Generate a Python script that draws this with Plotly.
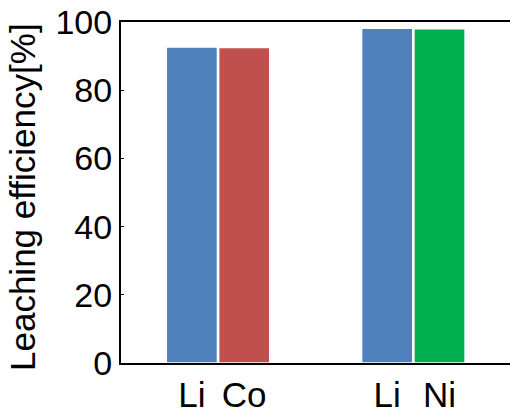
import plotly.graph_objects as go

groups = ["Li-Co", "Li-Ni"]
bar_labels = ["Li", "Co", "Li", "Ni"]
values = [92.7, 92.5, 98.2, 98.0]
colors = ["#4F81BD", "#C0504D", "#4F81BD", "#00B050"]
y_ticks = [0, 20, 40, 60, 80, 100]

offset = 0.134
xpos = []
for gi in range(len(groups)):
    xpos += [gi - offset, gi + offset]

fig = go.Figure()
fig.add_trace(go.Bar(
    x=xpos, y=values, width=0.262,
    marker=dict(color=colors, line=dict(color="white", width=1.5)),
))

font = dict(family="Liberation Sans, Arial, sans-serif", color="black")
fig.update_layout(
    width=510, height=414,
    margin=dict(l=121, r=0, t=22, b=49),
    plot_bgcolor="white", paper_bgcolor="white",
    showlegend=False,
    font=font,
    xaxis=dict(
        range=[-0.497, 1.495],
        tickvals=xpos, ticktext=bar_labels,
        tickfont=dict(size=35),
        showline=True, linecolor="black", linewidth=2, mirror=True,
        ticks="", showgrid=False, zeroline=False,
    ),
    yaxis=dict(
        range=[0, 100],
        tickvals=y_ticks,
        tickfont=dict(size=34),
        showline=True, linecolor="black", linewidth=2,
        ticks="inside", ticklen=3, tickcolor="black", tickwidth=1,
        showgrid=False, zeroline=False,
        automargin=False,
    ),
    annotations=[dict(
        text="Leaching efficiency[%]", textangle=-90,
        xref="paper", yref="paper", x=0, y=0.5,
        xanchor="right", yanchor="middle", xshift=-77, yshift=-5,
        showarrow=False, font=dict(size=35),
    )],
)
fig.write_html("out.html")
